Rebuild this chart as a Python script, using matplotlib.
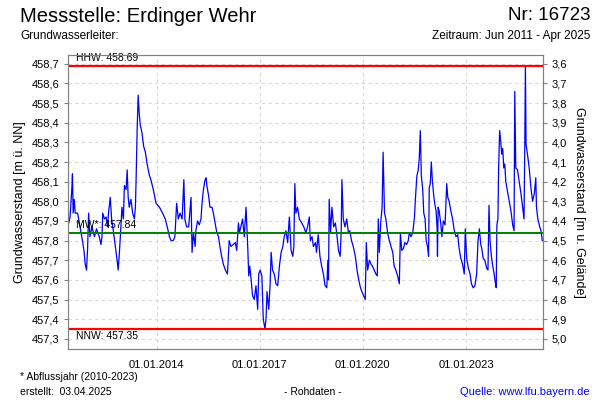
import matplotlib
matplotlib.use("Agg")
import matplotlib.pyplot as plt
import numpy as np
from datetime import datetime, timedelta

plt.rcParams['font.family'] = ['Liberation Sans', 'DejaVu Sans']

# decimal year / groundwater level [m ü. NN]
years = [
    2011.44, 2011.48, 2011.53, 2011.55, 2011.57, 2011.60, 2011.63, 2011.70, 2011.80, 2011.85,
    2011.89, 2011.92, 2011.96, 2011.99, 2012.02, 2012.06, 2012.12, 2012.19, 2012.25, 2012.33,
    2012.38, 2012.41, 2012.43, 2012.48, 2012.53, 2012.57, 2012.60, 2012.65, 2012.69, 2012.74,
    2012.80, 2012.85, 2012.88, 2012.91, 2012.96, 2012.99, 2013.03, 2013.06, 2013.11, 2013.14,
    2013.17, 2013.20, 2013.25, 2013.30, 2013.35, 2013.38, 2013.40, 2013.43, 2013.46, 2013.49,
    2013.52, 2013.57, 2013.62, 2013.67, 2013.72, 2013.79, 2013.83, 2013.90, 2013.98, 2014.08,
    2014.17, 2014.25, 2014.32, 2014.37, 2014.42, 2014.48, 2014.53, 2014.58, 2014.63, 2014.68,
    2014.74, 2014.79, 2014.82, 2014.87, 2014.93,
    2015.00, 2015.03, 2015.07, 2015.12, 2015.14, 2015.19, 2015.24, 2015.29, 2015.32, 2015.36,
    2015.41, 2015.44, 2015.46, 2015.51, 2015.55, 2015.61, 2015.65, 2015.70, 2015.75, 2015.80,
    2015.84, 2015.89, 2015.94, 2016.00, 2016.06, 2016.11, 2016.16, 2016.23, 2016.29, 2016.33,
    2016.38, 2016.41, 2016.45, 2016.50, 2016.55, 2016.60, 2016.65, 2016.68, 2016.71, 2016.75,
    2016.79, 2016.84, 2016.89, 2016.94, 2016.97, 2017.01, 2017.06, 2017.10, 2017.15, 2017.18,
    2017.21, 2017.26, 2017.30, 2017.33, 2017.37, 2017.42, 2017.47, 2017.52, 2017.57, 2017.62,
    2017.67, 2017.71, 2017.76, 2017.81, 2017.86, 2017.91, 2017.96, 2017.99, 2018.02, 2018.05,
    2018.10, 2018.15, 2018.22, 2018.28,
    2018.34, 2018.39, 2018.44, 2018.47, 2018.52, 2018.56, 2018.62, 2018.65, 2018.70, 2018.75,
    2018.80, 2018.85, 2018.90, 2018.95, 2018.98, 2019.00, 2019.02, 2019.06, 2019.10, 2019.15,
    2019.20, 2019.25, 2019.29, 2019.34, 2019.37, 2019.39, 2019.43, 2019.48, 2019.53, 2019.58,
    2019.62, 2019.67, 2019.72, 2019.78, 2019.83, 2019.88, 2019.93, 2019.97, 2020.02, 2020.07,
    2020.10, 2020.14, 2020.19, 2020.24, 2020.28, 2020.33, 2020.38, 2020.42, 2020.45, 2020.48,
    2020.52, 2020.56, 2020.59, 2020.63, 2020.67, 2020.72, 2020.77, 2020.82, 2020.87, 2020.91,
    2020.96, 2021.01, 2021.06, 2021.09, 2021.13, 2021.18, 2021.22, 2021.27, 2021.32, 2021.35,
    2021.40, 2021.45, 2021.50, 2021.53, 2021.57, 2021.61, 2021.64, 2021.67, 2021.70, 2021.74,
    2021.77, 2021.81,
    2021.84, 2021.88, 2021.91, 2021.93, 2021.96, 2021.99, 2022.02, 2022.05, 2022.08, 2022.13,
    2022.16, 2022.17, 2022.19, 2022.22, 2022.27, 2022.30, 2022.34, 2022.39, 2022.44, 2022.47,
    2022.51, 2022.56, 2022.61, 2022.66, 2022.71, 2022.76, 2022.80, 2022.85, 2022.90, 2022.95,
    2022.98, 2023.02, 2023.07, 2023.12, 2023.16, 2023.21, 2023.26, 2023.31, 2023.35, 2023.39,
    2023.43, 2023.46, 2023.50, 2023.55, 2023.60, 2023.64, 2023.67, 2023.70, 2023.74, 2023.77,
    2023.82, 2023.85, 2023.88, 2023.90, 2023.93, 2023.95, 2023.98, 2024.01, 2024.04, 2024.07,
    2024.10, 2024.13, 2024.16, 2024.21, 2024.26, 2024.31, 2024.36, 2024.40, 2024.42, 2024.45,
    2024.50, 2024.55, 2024.60, 2024.65, 2024.69, 2024.71, 2024.73, 2024.75, 2024.79, 2024.84,
    2024.89, 2024.94, 2024.99, 2025.03, 2025.05, 2025.09, 2025.13, 2025.18, 2025.22,
]
levels = [
    457.89, 457.92, 458.06, 458.14, 457.94, 458.01, 457.94, 457.94, 457.84, 457.79,
    457.74, 457.68, 457.65, 457.76, 457.94, 457.82, 457.87, 457.82, 457.86, 457.82,
    457.78, 457.82, 457.94, 457.91, 457.92, 457.87, 457.94, 458.02, 457.91, 457.85,
    457.77, 457.70, 457.65, 457.72, 457.87, 457.97, 457.91, 458.08, 458.06, 458.16,
    458.02, 457.97, 458.01, 457.94, 457.91, 457.97, 458.11, 458.36, 458.54, 458.45,
    458.39, 458.35, 458.28, 458.25, 458.19, 458.13, 458.11, 458.06, 457.99, 457.97,
    457.94, 457.91, 457.86, 457.82, 457.80, 457.80, 457.82, 457.99, 457.91, 457.94,
    457.91, 458.11, 457.91, 457.87, 457.87,
    458.02, 457.74, 457.84, 457.77, 457.85, 457.90, 457.88, 457.91, 457.99, 458.06,
    458.11, 458.12, 458.08, 458.03, 457.97, 457.97, 457.94, 457.89, 457.84, 457.82,
    457.77, 457.72, 457.68, 457.65, 457.63, 457.80, 457.77, 457.78, 457.79, 457.75,
    457.89, 457.84, 457.87, 457.91, 457.82, 457.97, 457.77, 457.62, 457.67, 457.60,
    457.52, 457.50, 457.57, 457.45, 457.63, 457.65, 457.62, 457.40, 457.35, 457.40,
    457.54, 457.45, 457.58, 457.74, 457.65, 457.63, 457.58, 457.57, 457.67, 457.74,
    457.77, 457.82, 457.85, 457.79, 457.92, 457.75, 457.72, 457.77, 458.09, 457.94,
    457.97, 457.91, 457.89, 457.87,
    457.84, 457.87, 457.92, 457.80, 457.82, 457.77, 457.79, 457.74, 457.83, 457.72,
    457.67, 457.63, 457.57, 457.56, 457.70, 457.60, 458.01, 457.84, 457.97, 457.87,
    457.89, 457.82, 457.75, 457.72, 457.85, 458.11, 457.91, 457.87, 457.91, 457.84,
    457.85, 457.80, 457.77, 457.72, 457.65, 457.60, 457.56, 457.54, 457.52, 457.50,
    457.79, 457.65, 457.70, 457.68, 457.67, 457.65, 457.63, 457.62, 457.91, 457.74,
    457.89, 457.97, 458.25, 457.94, 457.91, 457.84, 457.80, 457.77, 457.74, 457.67,
    457.65, 457.62, 457.58, 457.84, 457.75, 457.76, 457.79, 457.78, 457.80, 457.84,
    457.82, 457.84, 457.92, 458.02, 458.13, 458.16, 458.22, 458.36, 458.13, 458.06,
    457.94, 457.91,
    457.80, 457.77, 457.72, 458.07, 458.09, 458.20, 458.11, 458.05, 458.00, 457.95,
    457.86, 457.72, 457.97, 457.95, 457.88, 457.82, 457.90, 457.88, 458.09, 458.02,
    458.00, 457.95, 457.91, 457.85, 457.82, 457.83, 457.76, 457.71, 457.68, 457.63,
    457.86, 457.71, 457.66, 457.63, 457.58, 457.56, 457.57, 457.63, 457.80, 457.86,
    457.78, 457.76, 457.71, 457.70, 457.66, 457.65, 457.98, 457.80, 457.72, 457.68,
    457.63, 457.59, 457.56, 457.88, 457.91, 458.17, 458.36, 458.31, 458.24, 458.27,
    458.17, 458.19, 458.10, 458.05, 458.00, 457.95, 457.88, 457.85, 458.56, 458.17,
    458.16, 458.10, 458.04, 457.97, 457.91, 458.24, 458.69, 458.29, 458.24, 458.17,
    458.07, 458.00, 458.04, 458.12, 457.97, 457.91, 457.88, 457.85, 457.80,
]

hhw = 458.69
mw = 457.84
nnw = 457.35
gelaende = 462.3  # ground level, right axis = gelaende - level

yticks = [457.3, 457.4, 457.5, 457.6, 457.7, 457.8, 457.9, 458.0, 458.1, 458.2, 458.3, 458.4, 458.5, 458.6, 458.7]
xtick_years = [2014, 2017, 2020, 2023]


def to_date(y):
    yr = int(y)
    start = datetime(yr, 1, 1)
    return start + timedelta(days=(y - yr) * 365.25)


dates = [to_date(y) for y in years]

fig = plt.figure(figsize=(6, 4), dpi=100)
ax = fig.add_axes([68 / 600, 1 - 349 / 400, 475 / 600, 294 / 400])

ax.plot(dates, levels, color='#0000ff', lw=0.9, zorder=3)
ax.axhline(hhw, color='#ff0000', lw=1.6, zorder=4)
ax.axhline(nnw, color='#ff0000', lw=1.6, zorder=4)
ax.axhline(mw, color='#008000', lw=1.4, zorder=4)

ax.set_xlim(to_date(2011.42), to_date(2025.24))
ax.set_ylim(457.248, 458.745)
ax.set_yticks(yticks)
ax.set_yticklabels([f"{v:.1f}".replace('.', ',') for v in yticks], fontsize=8)
ax.set_xticks([datetime(y, 1, 1) for y in xtick_years])
ax.set_xticklabels([f"01.01.{y}" for y in xtick_years], fontsize=8)
ax.tick_params(axis='both', length=3, color='#808080', pad=3)
ax.tick_params(axis='x', length=0, pad=8)
ax.grid(True, color='#d8d8d8', ls=(0, (3, 3)), lw=0.8)
for s in ax.spines.values():
    s.set_color('#808080')

ax.set_ylabel("Grundwasserstand [m ü. NN]", fontsize=9, labelpad=4)

x0 = to_date(2011.65)
ax.text(x0, hhw + 0.012, f"HHW: {hhw:.2f}", fontsize=7.5, va='bottom', zorder=5)
ax.text(x0, mw + 0.012, f"MW*: {mw:.2f}", fontsize=7.5, va='bottom', zorder=5)
ax.text(x0, nnw - 0.012, f"NNW: {nnw:.2f}", fontsize=7.5, va='top', zorder=5)

ax2 = ax.twinx()
ax2.set_ylim(gelaende - 457.248, gelaende - 458.745)
rticks = [round(gelaende - v, 1) for v in yticks]
ax2.set_yticks(rticks)
ax2.set_yticklabels([f"{v:.1f}".replace('.', ',') for v in rticks], fontsize=8)
ax2.tick_params(axis='y', length=3, color='#808080', pad=3)
for s in ax2.spines.values():
    s.set_color('#808080')
ax2.set_ylabel("Grundwasserstand [m u. Gelände]", fontsize=9, rotation=-90, labelpad=13)

fig.text(20 / 600, 1 - 16 / 400, "Messstelle: Erdinger Wehr", fontsize=14.5, va='center', ha='left')
fig.text(590 / 600, 1 - 16 / 400, "Nr: 16723", fontsize=13.5, va='center', ha='right')
fig.text(20 / 600, 1 - 36 / 400, "Grundwasserleiter:", fontsize=8.5, va='center', ha='left')
fig.text(590 / 600, 1 - 36 / 400, "Zeitraum: Jun 2011 - Apr 2025", fontsize=8.5, va='center', ha='right')

fig.text(20 / 600, 1 - 377 / 400, "* Abflussjahr (2010-2023)", fontsize=7.5, va='center', ha='left')
fig.text(20 / 600, 1 - 392 / 400, "erstellt:  03.04.2025", fontsize=7.5, va='center', ha='left')
fig.text(313 / 600, 1 - 392 / 400, "- Rohdaten -", fontsize=7.5, va='center', ha='center')
fig.text(590 / 600, 1 - 392 / 400, "Quelle: www.lfu.bayern.de", fontsize=8, va='center', ha='right', color='#0000ff')

fig.savefig("out.png", dpi=100)
